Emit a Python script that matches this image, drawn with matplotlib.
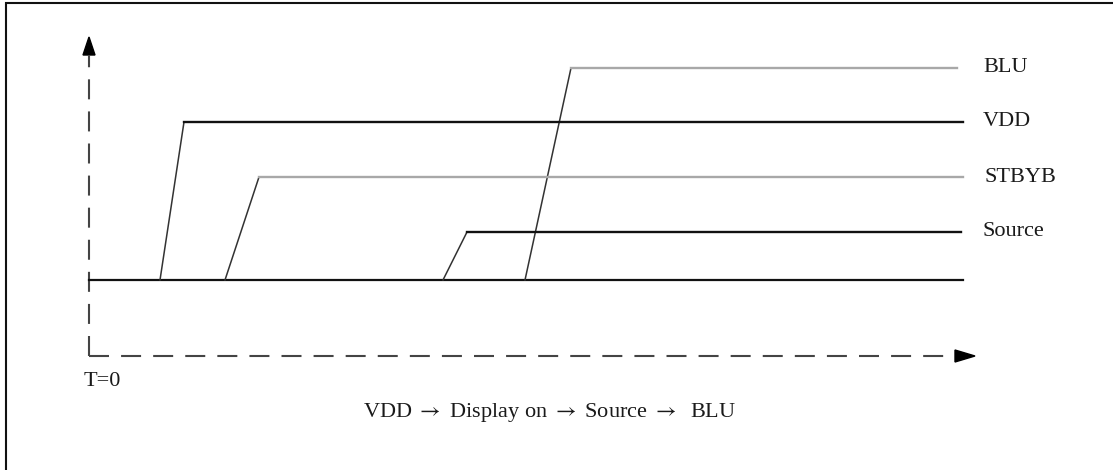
import matplotlib
matplotlib.use("Agg")
import matplotlib.pyplot as plt
from matplotlib.patches import Rectangle, Polygon

plt.rcParams['font.family'] = ['Liberation Serif', 'DejaVu Serif']
plt.rcParams['mathtext.fontset'] = 'stix'

# Signal data (time units ~ pixels from T=0, level units above baseline)
signals = ["BLU", "VDD", "STBYB", "Source"]
rise_start = [436, 71, 136, 354]
rise_end = [482, 95, 170, 378]
high_level = [212, 158, 103, 48]
line_end = [868, 874, 874, 872]
colors = ["#a8a8a8", "#111111", "#a8a8a8", "#111111"]
label_x = [894, 894, 896, 893]

t_end_baseline = 874
x_axis_end = 886
y_axis_top = 243
axis_floor = -76
caption = r"VDD $\rightarrow$ Display on $\rightarrow$ Source $\rightarrow$  BLU"
t0_label = "T=0"

fig = plt.figure(figsize=(11.13, 4.70), dpi=100)
ax = fig.add_axes([0, 0, 1, 1])
ax.set_xlim(-89, 1113 - 89)
ax.set_ylim(-190, 280)
ax.axis('off')

# border frame
fig.patches.append(Rectangle((6 / 1113, -0.1), 1.2, 1 - 3 / 470 + 0.1,
                             transform=fig.transFigure, fill=False,
                             edgecolor='#111111', linewidth=1.5))

# dashed axes
dash = dict(color='#444444', linewidth=1.5, dashes=(9.6, 5.8))
ax.plot([0, 0], [axis_floor, y_axis_top - 18], **dash)
ax.plot([0, x_axis_end - 20], [axis_floor, axis_floor], **dash)
# arrow heads
ax.add_patch(Polygon([[-6, y_axis_top - 18], [6, y_axis_top - 18], [0, y_axis_top]],
                     closed=True, color='black'))
ax.add_patch(Polygon([[x_axis_end - 20, axis_floor + 6], [x_axis_end - 20, axis_floor - 6],
                      [x_axis_end, axis_floor]], closed=True, color='black'))

# baseline
ax.plot([0, t_end_baseline], [0, 0], color='#111111', linewidth=1.6)

# signals
for name, s, e, h, le, c, lx in zip(signals, rise_start, rise_end, high_level,
                                    line_end, colors, label_x):
    ax.plot([s, e], [0, h], color='#333333', linewidth=1.1)
    ax.plot([e, le], [h, h], color=c, linewidth=1.7)
    ax.text(lx, h, name, fontsize=16, ha='left', va='center', color='#1a1a1a')

ax.text(-5, -101, t0_label, fontsize=16, ha='left', va='center', color='#1a1a1a')
ax.text(550 - 89, -133, caption, fontsize=16, ha='center', va='center', color='#1a1a1a')

fig.savefig("out.png", dpi=100)
